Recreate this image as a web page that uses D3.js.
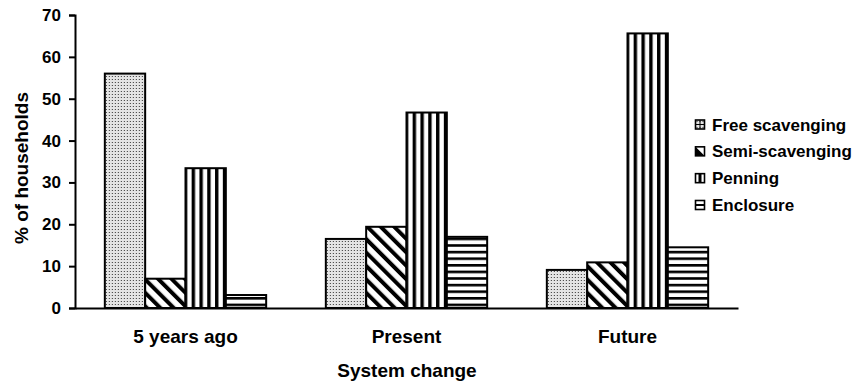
<!DOCTYPE html>
<html>
<head>
<meta charset="utf-8">
<script src="https://cdn.jsdelivr.net/npm/d3@7/dist/d3.min.js"></script>
<style>
  html, body { margin: 0; padding: 0; background: #fff; }
  svg { display: block; font-family: "Liberation Sans", Arial, sans-serif; font-weight: bold; }
</style>
</head>
<body>
<svg id="chart" width="856" height="385"></svg>
<script>
const categories = ["5 years ago", "Present", "Future"];
const seriesNames = ["Free scavenging", "Semi-scavenging", "Penning", "Enclosure"];
const freeScavenging = [56, 16.5, 9.1];
const semiScavenging = [7, 19.4, 10.9];
const penning = [33.4, 46.7, 65.6];
const enclosure = [3.1, 17, 14.5];
const yTicks = [0, 10, 20, 30, 40, 50, 60, 70];
const yTitle = "% of households";
const xTitle = "System change";

const seriesValues = [freeScavenging, semiScavenging, penning, enclosure];
const patternIds = ["pFree", "pSemi", "pPen", "pEnc"];

const svg = d3.select("#chart");
const defs = svg.append("defs");

// Free scavenging: light grey with fine dark dots
const p0 = defs.append("pattern").attr("id", "pFree").attr("patternUnits", "userSpaceOnUse")
  .attr("width", 3).attr("height", 3);
p0.append("rect").attr("width", 3).attr("height", 3).attr("fill", "#e4e4e4");
p0.append("rect").attr("x", 1).attr("y", 1).attr("width", 1).attr("height", 1).attr("fill", "#333");

// Semi-scavenging: diagonal "\" stripes
const p1 = defs.append("pattern").attr("id", "pSemi").attr("patternUnits", "userSpaceOnUse")
  .attr("width", 9.5).attr("height", 9.5).attr("patternTransform", "rotate(-45)");
p1.append("rect").attr("width", 9.5).attr("height", 9.5).attr("fill", "#fff");
p1.append("rect").attr("width", 4).attr("height", 9.5).attr("fill", "#000");

// Penning: vertical stripes
const p2 = defs.append("pattern").attr("id", "pPen").attr("patternUnits", "userSpaceOnUse")
  .attr("x", 1).attr("width", 7.8).attr("height", 10);
p2.append("rect").attr("width", 7.8).attr("height", 10).attr("fill", "#fff");
p2.append("rect").attr("width", 3.4).attr("height", 10).attr("fill", "#000");

// Enclosure: horizontal stripes
const p3 = defs.append("pattern").attr("id", "pEnc").attr("patternUnits", "userSpaceOnUse")
  .attr("width", 10).attr("height", 6.6);
p3.append("rect").attr("width", 10).attr("height", 6.6).attr("fill", "#fff");
p3.append("rect").attr("width", 10).attr("height", 2.6).attr("fill", "#000");

const x0 = d3.scaleBand().domain(categories).range([75, 738])
  .paddingInner(0.27).paddingOuter(0.135);
const x1 = d3.scaleBand().domain(seriesNames).range([0, x0.bandwidth()]).padding(0);
const y = d3.scaleLinear().domain([0, 70]).range([308, 15]);

// Bars
categories.forEach((c, ci) => {
  const g = svg.append("g").attr("transform", `translate(${x0(c)},0)`);
  seriesNames.forEach((s, si) => {
    const v = seriesValues[si][ci];
    g.append("rect")
      .attr("x", x1(s))
      .attr("y", y(v))
      .attr("width", x1.bandwidth())
      .attr("height", y(0) - y(v))
      .attr("fill", `url(#${patternIds[si]})`)
      .attr("stroke", "#000")
      .attr("stroke-width", 2);
  });
});

// Y axis
const yAxis = d3.axisLeft(y).tickValues(yTicks).tickSize(6).tickPadding(8).tickFormat(d3.format("d"));
const gy = svg.append("g").attr("transform", "translate(75,0)").call(yAxis);
gy.select(".domain").attr("stroke", "#000").attr("stroke-width", 2);
gy.selectAll(".tick line").attr("stroke", "#000").attr("stroke-width", 2);
gy.selectAll(".tick text").attr("font-size", 17).attr("font-weight", "bold")
  .attr("font-family", "Liberation Sans, Arial, sans-serif").attr("fill", "#000");

// X axis
const xAxis = d3.axisBottom(x0).tickSize(0).tickPadding(22);
const gx = svg.append("g").attr("transform", "translate(0,308)").call(xAxis);
gx.select(".domain").attr("stroke", "#000").attr("stroke-width", 2);
gx.selectAll(".tick text").attr("font-size", 19).attr("font-weight", "bold")
  .attr("font-family", "Liberation Sans, Arial, sans-serif").attr("fill", "#000");

// Axis titles
svg.append("text").attr("x", 407).attr("y", 377).attr("text-anchor", "middle")
  .attr("font-size", 19).text(xTitle);
svg.append("text").attr("transform", "translate(28,168) rotate(-90)").attr("text-anchor", "middle")
  .attr("font-size", 19).text(yTitle);

// Legend
const legendY = d3.scalePoint().domain(seriesNames).range([124.5, 205]);
const lg = svg.append("g");
seriesNames.forEach((s, si) => {
  const cy = legendY(s);
  const sw = lg.append("g").attr("transform", `translate(695.5,${cy - 4.5})`);
  sw.append("rect").attr("width", 9).attr("height", 9).attr("fill", "#fff");
  if (si === 0) {
    sw.append("rect").attr("width", 9).attr("height", 9).attr("fill", "url(#pFree)");
    sw.append("path").attr("d", "M4.5,0V9M0,4.5H9").attr("stroke", "#000").attr("stroke-width", 1);
  } else if (si === 1) {
    sw.append("path").attr("d", "M0,0L9,9H0Z").attr("fill", "#000");
  } else if (si === 2) {
    sw.append("rect").attr("x", 3).attr("width", 3).attr("height", 9).attr("fill", "#000");
  } else {
    sw.append("path").attr("d", "M0,4.5H9").attr("stroke", "#000").attr("stroke-width", 2);
  }
  sw.append("rect").attr("width", 9).attr("height", 9).attr("fill", "none")
    .attr("stroke", "#000").attr("stroke-width", 1.6);
  lg.append("text").attr("x", 712).attr("y", cy + 6).attr("font-size", 17).text(s);
});
</script>
</body>
</html>
